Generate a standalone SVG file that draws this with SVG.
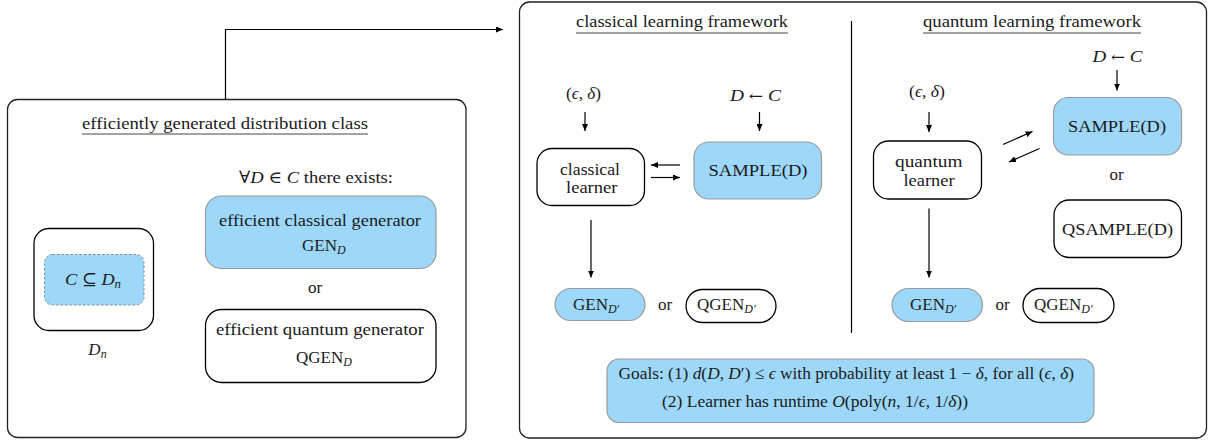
<svg xmlns="http://www.w3.org/2000/svg" width="1210" height="441" viewBox="0 0 1210 441" font-family="'Liberation Serif', 'DejaVu Serif', 'Times New Roman', serif">
<defs>
<marker id="ah" markerUnits="userSpaceOnUse" markerWidth="8" markerHeight="6" refX="7" refY="3" orient="auto"><path d="M0,0 L7,3 L0,6 z" fill="#000"/></marker>
<style>
text{font-family:'Liberation Serif','DejaVu Serif','Times New Roman',serif;font-size:17px;fill:#1a1a1a}
.m{font-style:italic}
.sub{font-size:12px;font-style:italic}
.arr{font-family:'DejaVu Serif',serif;font-size:15px}
.frame{fill:#fff;stroke:#222;stroke-width:1.3}
.wbox{fill:#fff;stroke:#000;stroke-width:1.3}
.bbox{fill:#9dd8fb;stroke:#9a9a9a;stroke-width:1.2}
.dbox{fill:#9dd8fb;stroke:#8a8a8a;stroke-width:1;stroke-dasharray:2.5,2}
.ul{stroke:#444;stroke-width:1}
.c{stroke:#000;stroke-width:1.2;fill:none}
.ca{stroke:#000;stroke-width:1.2;fill:none;marker-end:url(#ah)}
</style>
</defs>

<g id="left-panel">
<rect class="frame" x="7.5" y="99.5" width="458.5" height="338" rx="10"/>
<text x="82" y="129" textLength="286" lengthAdjust="spacingAndGlyphs">efficiently generated distribution class</text>
<line class="ul" x1="82" y1="134" x2="368" y2="134"/>
<text x="239" y="182.5" textLength="154" lengthAdjust="spacingAndGlyphs">∀<tspan class="m">D</tspan> ∈ <tspan class="m">C</tspan> there exists:</text>
</g>

<g id="dn-set">
<rect class="wbox" x="34" y="228.5" width="119.5" height="102" rx="15"/>
<text x="97.5" y="355" text-anchor="middle"><tspan class="m">D</tspan><tspan class="sub" dy="3">n</tspan></text>
</g>
<g id="c-class">
<rect class="dbox" x="44.5" y="254.5" width="99.5" height="50.5" rx="8"/>
<text x="65" y="285" textLength="56" lengthAdjust="spacingAndGlyphs"><tspan class="m">C</tspan> ⊆ <tspan class="m">D</tspan><tspan class="sub" dy="3">n</tspan></text>
</g>

<g id="classical-generator">
<rect class="bbox" x="205.5" y="196" width="230.5" height="72.5" rx="16"/>
<text x="219" y="226" textLength="202" lengthAdjust="spacingAndGlyphs">efficient classical generator</text>
<text x="302" y="250.5">GEN<tspan class="sub" dy="3">D</tspan></text>
</g>
<text x="315" y="293" text-anchor="middle">or</text>
<g id="quantum-generator">
<rect class="wbox" x="205.5" y="309.5" width="230.5" height="73" rx="16"/>
<text x="216" y="335" textLength="208" lengthAdjust="spacingAndGlyphs">efficient quantum generator</text>
<text x="296" y="362.5">QGEN<tspan class="sub" dy="3">D</tspan></text>
</g>

<g id="right-panel">
<rect class="frame" x="519.5" y="2" width="687" height="436" rx="10"/>
<line class="c" x1="851.5" y1="21" x2="851.5" y2="333"/>
<text x="576" y="27" textLength="212" lengthAdjust="spacingAndGlyphs">classical learning framework</text>
<line class="ul" x1="576" y1="33" x2="788" y2="33"/>
<text x="923" y="27" textLength="218" lengthAdjust="spacingAndGlyphs">quantum learning framework</text>
<line class="ul" x1="923" y1="33" x2="1141" y2="33"/>
</g>

<g id="classical-inputs">
<text x="566" y="99" textLength="35" lengthAdjust="spacingAndGlyphs">(<tspan class="m">ϵ</tspan>, <tspan class="m">δ</tspan>)</text>
<text x="730" y="101" textLength="51" lengthAdjust="spacingAndGlyphs"><tspan class="m">D</tspan> <tspan class="arr">←</tspan> <tspan class="m">C</tspan></text>
</g>
<g id="classical-learner">
<rect class="wbox" x="537" y="148.5" width="107.5" height="57" rx="15"/>
<text x="560" y="175" textLength="60" lengthAdjust="spacingAndGlyphs">classical</text>
<text x="566" y="192.5" textLength="51.5" lengthAdjust="spacingAndGlyphs">learner</text>
</g>
<g id="classical-sample">
<rect class="bbox" x="694" y="142" width="127.5" height="57" rx="15"/>
<text x="708.5" y="175.5" textLength="99" lengthAdjust="spacingAndGlyphs">SAMPLE(D)</text>
</g>
<g id="classical-output">
<rect class="bbox" x="555" y="288.5" width="90" height="32" rx="16"/>
<text x="573" y="310">GEN<tspan class="sub" dy="3">D′</tspan></text>
<text x="665" y="310" text-anchor="middle">or</text>
<rect class="wbox" x="686" y="289.5" width="90" height="33" rx="16.5"/>
<text x="697" y="310">QGEN<tspan class="sub" dy="3">D′</tspan></text>
</g>

<g id="quantum-inputs">
<text x="909" y="96.5" textLength="36" lengthAdjust="spacingAndGlyphs">(<tspan class="m">ϵ</tspan>, <tspan class="m">δ</tspan>)</text>
<text x="1092.5" y="62" textLength="50" lengthAdjust="spacingAndGlyphs"><tspan class="m">D</tspan> <tspan class="arr">←</tspan> <tspan class="m">C</tspan></text>
</g>
<g id="quantum-learner">
<rect class="wbox" x="873.5" y="141" width="108" height="58" rx="15"/>
<text x="895" y="167" textLength="67.5" lengthAdjust="spacingAndGlyphs">quantum</text>
<text x="903.5" y="186" textLength="51" lengthAdjust="spacingAndGlyphs">learner</text>
</g>
<g id="quantum-sample">
<rect class="bbox" x="1053.5" y="97.5" width="128" height="57.5" rx="15"/>
<text x="1068" y="131.5" textLength="98" lengthAdjust="spacingAndGlyphs">SAMPLE(D)</text>
<text x="1116.5" y="180" text-anchor="middle">or</text>
<rect class="wbox" x="1054" y="200" width="127.5" height="57.5" rx="15"/>
<text x="1062" y="235" textLength="111" lengthAdjust="spacingAndGlyphs">QSAMPLE(D)</text>
</g>
<g id="quantum-output">
<rect class="bbox" x="892" y="288.5" width="90.5" height="33" rx="16.5"/>
<text x="910" y="310">GEN<tspan class="sub" dy="3">D′</tspan></text>
<text x="1002.5" y="310" text-anchor="middle">or</text>
<rect class="wbox" x="1023" y="288.5" width="91" height="34" rx="17"/>
<text x="1034" y="310">QGEN<tspan class="sub" dy="3">D′</tspan></text>
</g>

<g id="goals">
<rect class="bbox" x="607" y="359" width="487" height="63.5" rx="12"/>
<text x="618.5" y="378.5" textLength="455.5" lengthAdjust="spacingAndGlyphs">Goals: (1) <tspan class="m">d</tspan>(<tspan class="m">D</tspan>, <tspan class="m">D</tspan>′) ≤ <tspan class="m">ϵ</tspan> with probability at least 1 − <tspan class="m">δ</tspan>, for all (<tspan class="m">ϵ</tspan>, <tspan class="m">δ</tspan>)</text>
<text x="662" y="406.5" textLength="306" lengthAdjust="spacingAndGlyphs">(2) Learner has runtime <tspan class="m">O</tspan>(poly(<tspan class="m">n</tspan>, 1/<tspan class="m">ϵ</tspan>, 1/<tspan class="m">δ</tspan>))</text>
</g>

<g id="connectors">
<polyline class="ca" points="225.5,99.5 225.5,29.5 503,29.5"/>
<line class="ca" x1="585" y1="112" x2="585" y2="131"/>
<line class="ca" x1="759.5" y1="112" x2="759.5" y2="131"/>
<line class="ca" x1="680" y1="165" x2="651" y2="165"/>
<line class="ca" x1="651" y1="177.5" x2="680" y2="177.5"/>
<line class="ca" x1="591" y1="220" x2="591" y2="277.5"/>
<line class="ca" x1="929" y1="112" x2="929" y2="132"/>
<line class="ca" x1="1117" y1="70" x2="1117" y2="90.5"/>
<line class="ca" x1="1003" y1="144.5" x2="1032.5" y2="131.5"/>
<line class="ca" x1="1039.5" y1="148.5" x2="1009" y2="162"/>
<line class="ca" x1="929" y1="208.5" x2="929" y2="277.5"/>
</g>
</svg>
